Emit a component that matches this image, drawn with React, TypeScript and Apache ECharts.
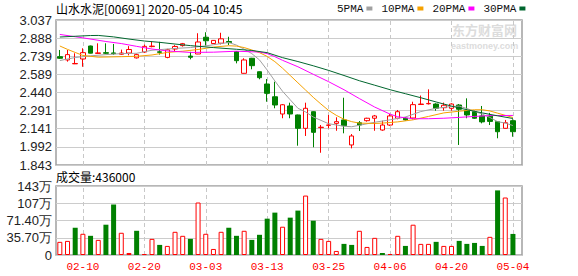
import React, { useEffect, useRef } from 'react';
import * as echarts from 'echarts';

const dates = [
  '02-05', '02-06', '02-07', '02-10', '02-11', '02-12', '02-13', '02-14', '02-17', '02-18',
  '02-19', '02-20', '02-21', '02-24', '02-25', '02-26', '02-27', '02-28', '03-02', '03-03',
  '03-04', '03-05', '03-06', '03-09', '03-10', '03-11', '03-12', '03-13', '03-16', '03-17',
  '03-18', '03-19', '03-20', '03-23', '03-24', '03-25', '03-26', '03-27', '03-30', '03-31',
  '04-01', '04-02', '04-03', '04-06', '04-07', '04-08', '04-09', '04-14', '04-15', '04-16',
  '04-17', '04-20', '04-21', '04-22', '04-23', '04-24', '04-27', '04-28', '04-29', '05-04',
];

const opens = [
  2.735, 2.708, 2.676, 2.716, 2.823, 2.762, 2.768, 2.766, 2.755, 2.765,
  2.725, 2.773, 2.818, 2.775, 2.729, 2.798, 2.826, 2.740, 2.757, 2.895,
  2.843, 2.846, 2.860, 2.777, 2.598, 2.722, 2.611, 2.510, 2.405, 2.263,
  2.329, 2.255, 2.145, 2.282, 2.151, 2.170, 2.186, 2.214, 2.008, 2.191,
  2.208, 2.228, 2.131, 2.172, 2.228, 2.228, 2.230, 2.341, 2.347, 2.345,
  2.315, 2.310, 2.337, 2.290, 2.282, 2.247, 2.245, 2.200, 2.145, 2.208,
];
const closes = [
  2.722, 2.752, 2.679, 2.768, 2.764, 2.766, 2.763, 2.760, 2.765, 2.794,
  2.752, 2.820, 2.822, 2.771, 2.792, 2.819, 2.842, 2.730, 2.856, 2.866,
  2.869, 2.882, 2.851, 2.702, 2.708, 2.661, 2.562, 2.433, 2.337, 2.339,
  2.263, 2.145, 2.310, 2.112, 2.154, 2.172, 2.200, 2.167, 2.082, 2.172,
  2.228, 2.247, 2.172, 2.247, 2.282, 2.214, 2.340, 2.345, 2.350, 2.310,
  2.335, 2.345, 2.302, 2.255, 2.228, 2.198, 2.202, 2.117, 2.191, 2.117,
];
const lows = [
  2.716, 2.694, 2.674, 2.652, 2.762, 2.760, 2.756, 2.750, 2.750, 2.746,
  2.720, 2.765, 2.812, 2.752, 2.722, 2.775, 2.818, 2.713, 2.756, 2.825,
  2.840, 2.836, 2.831, 2.680, 2.596, 2.631, 2.549, 2.364, 2.310, 2.228,
  2.228, 2.002, 2.082, 1.989, 1.944, 2.145, 2.125, 2.104, 1.980, 2.123,
  2.200, 2.125, 2.125, 2.165, 2.219, 2.208, 2.219, 2.337, 2.341, 2.290,
  2.290, 2.290, 2.008, 2.228, 2.222, 2.186, 2.172, 2.063, 2.143, 2.076,
];
const highs = [
  2.790, 2.790, 2.763, 2.804, 2.826, 2.845, 2.845, 2.840, 2.793, 2.822,
  2.760, 2.834, 2.861, 2.857, 2.800, 2.830, 2.848, 2.775, 2.928, 2.936,
  2.872, 2.932, 2.899, 2.780, 2.722, 2.725, 2.613, 2.551, 2.529, 2.345,
  2.356, 2.258, 2.356, 2.285, 2.172, 2.255, 2.236, 2.397, 2.098, 2.205,
  2.232, 2.255, 2.208, 2.263, 2.296, 2.239, 2.364, 2.415, 2.466, 2.351,
  2.357, 2.351, 2.345, 2.392, 2.290, 2.329, 2.272, 2.205, 2.214, 2.219,
];
// volume in 万
const volumes = [
  27.2, 29.2, 56.4, 43.9, 39.7, 31.3, 62.7, 104.5, 46.0, 4.2,
  50.1, 2.0, 33.4, 20.9, 18.8, 48.0, 39.7, 33.4, 108.6, 43.9,
  12.5, 48.0, 56.4, 39.7, 50.1, 31.3, 41.8, 75.2, 87.7, 58.5,
  77.3, 91.9, 123.0, 71.0, 33.4, 29.2, 8.4, 23.0, 20.9, 50.1,
  16.7, 35.5, 4.2, 2.1, 39.7, 18.8, 62.7, 23.0, 23.0, 27.2,
  18.8, 18.8, 29.2, 23.0, 25.0, 18.8, 37.6, 133.7, 119.0, 43.6,
];
const prevClose = 2.7;

const ma5 = [
  [0, 2.703], [2, 2.728], [4, 2.742], [6, 2.752], [8, 2.760], [10, 2.763], [12, 2.788], [14, 2.798],
  [15, 2.803], [17, 2.810], [19, 2.824], [20, 2.833], [21, 2.843], [22, 2.852], [23, 2.830], [24, 2.797],
  [25, 2.760], [26, 2.708], [27, 2.625], [28, 2.535], [29, 2.450], [30, 2.380], [31, 2.310], [32, 2.280],
  [33, 2.238], [35, 2.183], [37, 2.162], [38, 2.158], [39, 2.170], [41, 2.195], [43, 2.215], [45, 2.238],
  [47, 2.283], [49, 2.310], [51, 2.325], [52, 2.328], [53, 2.308], [54, 2.285], [55, 2.262], [56, 2.234],
  [57, 2.200], [58, 2.188], [59, 2.168],
];
const ma10 = [
  [0, 2.823], [1, 2.795], [2, 2.770], [3, 2.745], [5, 2.731], [8, 2.735], [10, 2.738], [12, 2.749],
  [14, 2.770], [16, 2.780], [18, 2.794], [20, 2.814], [22, 2.825], [23, 2.822], [24, 2.810], [25, 2.790],
  [26, 2.768], [27, 2.737], [28, 2.694], [29, 2.640], [30, 2.580], [31, 2.520], [32, 2.460], [33, 2.400],
  [34, 2.345], [35, 2.292], [36, 2.252], [37, 2.220], [38, 2.200], [39, 2.188], [41, 2.185], [42, 2.188],
  [44, 2.198], [46, 2.215], [48, 2.243], [50, 2.272], [52, 2.286], [54, 2.298], [55, 2.298], [56, 2.288],
  [57, 2.270], [58, 2.252], [59, 2.234],
];
const ma20 = [
  [0, 2.918], [3, 2.890], [6, 2.860], [8, 2.843], [10, 2.820], [12, 2.798], [14, 2.782], [17, 2.770],
  [20, 2.772], [23, 2.780], [26, 2.773], [27, 2.760], [28, 2.735], [29, 2.705], [31, 2.652], [33, 2.590],
  [35, 2.529], [37, 2.463], [39, 2.390], [41, 2.320], [43, 2.262], [44, 2.240], [46, 2.224], [48, 2.224],
  [50, 2.228], [52, 2.235], [54, 2.243], [56, 2.250], [59, 2.251],
];
const ma30 = [
  [0, 2.897], [2, 2.903], [4, 2.909], [5, 2.910], [7, 2.898], [9, 2.880], [11, 2.864], [13, 2.853],
  [15, 2.839], [17, 2.826], [20, 2.810], [23, 2.796], [25, 2.786], [27, 2.768], [29, 2.727], [31, 2.695],
  [33, 2.660], [35, 2.622], [37, 2.580], [39, 2.537], [41, 2.500], [43, 2.463], [45, 2.430], [47, 2.397],
  [49, 2.362], [51, 2.328], [53, 2.298], [55, 2.272], [57, 2.248], [59, 2.226],
];

const priceTicks = ['1.843', '1.992', '2.141', '2.291', '2.440', '2.589', '2.739', '2.888', '3.037'];
const volTicks = ['0', '35.70万', '71.40万', '107万', '143万'];
const dateTickIdx = [3, 11, 19, 27, 35, 43, 51, 59];

const PRICE_MIN = 1.843;
const PRICE_MAX = 3.037;
const VOL_MAX = 142.8;

const UP = '#ff0000';
const DOWN = '#008000';
const SANS = "'Noto Sans CJK SC', sans-serif";
const MONO = "'Liberation Mono', monospace";
const NUM = "'Liberation Sans', Arial, sans-serif";

export default function App() {
  const ref = useRef<HTMLDivElement>(null);

  useEffect(() => {
    if (!ref.current) return;
    const chart = echarts.init(ref.current, undefined, { renderer: 'svg' });
    const X_MIN = -0.5;
    const X_MAX = 60.18;
    const pStep = (PRICE_MAX - PRICE_MIN) / 8;
    const vStep = VOL_MAX / 4;

    const candleData = dates.map((_, i) => [i, opens[i], closes[i], lows[i], highs[i]]);
    const volData = volumes.map((v, i) => {
      const pc = i === 0 ? prevClose : closes[i - 1];
      const up = closes[i] >= pc;
      return {
        value: [i, v],
        itemStyle: up
          ? { color: '#ffffff', borderColor: UP, borderWidth: 1 }
          : { color: DOWN, borderColor: DOWN, borderWidth: 0 },
      };
    });

    const vLines = (z: number) => ({
      silent: true,
      symbol: ['none', 'none'],
      label: { show: false },
      z,
      lineStyle: { color: '#c8c8c8', type: [4, 3], width: 1 },
      data: dateTickIdx.map((i) => ({ xAxis: i })),
    });

    const lineSeries = (name: string, pts: number[][], color: string) => ({
      name,
      type: 'line',
      xAxisIndex: 0,
      yAxisIndex: 0,
      data: pts,
      showSymbol: false,
      symbol: 'none',
      smooth: false,
      lineStyle: { color, width: 1 },
      itemStyle: { color },
      z: 3,
    });

    chart.setOption({
      animation: false,
      backgroundColor: '#ffffff',
      title: [
        {
          text: '山水水泥[00691] 2020-05-04 10:45',
          left: 56,
          top: 2,
          padding: 0,
          textStyle: { fontSize: 12, fontWeight: 'normal', color: '#000', fontFamily: SANS },
        },
        {
          text: '成交量:' + Math.round(volumes[volumes.length - 1] * 10000),
          left: 56,
          top: 170,
          padding: 0,
          textStyle: { fontSize: 12, fontWeight: 'normal', color: '#000', fontFamily: SANS },
        },
      ],
      legend: {
        left: 337,
        top: 3,
        align: 'right',
        icon: 'rect',
        itemWidth: 6,
        itemHeight: 4,
        itemGap: 9,
        padding: 0,
        textStyle: { fontSize: 11, color: '#111', fontFamily: MONO, padding: [0, -2, 0, 0] },
        data: ['5PMA', '10PMA', '20PMA', '30PMA'],
      },
      graphic: [
        {
          type: 'text',
          left: 452,
          top: 23,
          z: 1,
          style: { text: '东方财富网', fontSize: 13, fontWeight: 'bold', fill: '#dcdcdc', fontFamily: SANS },
        },
        {
          type: 'text',
          left: 451,
          top: 41,
          z: 1,
          style: { text: 'eastmoney.com', fontSize: 9, fontWeight: 'bold', fill: '#dcdcdc', fontFamily: NUM },
        },
      ],
      grid: [
        { left: 56, top: 20, width: 466, height: 145, show: true, borderColor: '#a0a0a0', borderWidth: 1.5, backgroundColor: 'transparent' },
        { left: 56, top: 186, width: 466, height: 69, show: true, borderColor: '#a0a0a0', borderWidth: 1.5, backgroundColor: 'transparent' },
      ],
      xAxis: [
        {
          type: 'value', gridIndex: 0, min: X_MIN, max: X_MAX,
          axisLine: { show: false }, axisTick: { show: false }, axisLabel: { show: false }, splitLine: { show: false },
        },
        {
          type: 'value', gridIndex: 1, min: X_MIN, max: X_MAX,
          axisLine: { show: false }, axisTick: { show: false }, splitLine: { show: false },
          axisLabel: {
            customValues: dateTickIdx,
            formatter: (v: number) => dates[Math.round(v)] ?? '',
            color: '#ff0000', fontSize: 11, fontFamily: MONO, margin: 6,
          },
        },
      ],
      yAxis: [
        {
          type: 'value', gridIndex: 0, min: PRICE_MIN, max: PRICE_MAX, interval: pStep,
          axisLine: { show: false }, axisTick: { show: false },
          splitLine: { show: true, lineStyle: { color: '#cccccc', width: 1 } },
          axisLabel: {
            formatter: (v: number) => priceTicks[Math.round((v - PRICE_MIN) / pStep)] ?? '',
            color: '#222', fontSize: 13, fontFamily: NUM, margin: 4,
          },
        },
        {
          type: 'value', gridIndex: 1, min: 0, max: VOL_MAX, interval: vStep,
          axisLine: { show: false }, axisTick: { show: false },
          splitLine: { show: true, lineStyle: { color: '#cccccc', width: 1 } },
          axisLabel: {
            formatter: (v: number) => volTicks[Math.round(v / vStep)] ?? '',
            color: '#222', fontSize: 13, fontFamily: NUM, margin: 4,
          },
        },
      ],
      series: [
        {
          name: 'K',
          type: 'candlestick',
          xAxisIndex: 0,
          yAxisIndex: 0,
          barWidth: 5,
          data: candleData,
          itemStyle: { color: '#ffffff', color0: DOWN, borderColor: UP, borderColor0: DOWN, borderWidth: 1 },
          markLine: vLines(1),
          z: 2,
        },
        lineSeries('5PMA', ma5, '#a0a0a0'),
        lineSeries('10PMA', ma10, '#f5a100'),
        lineSeries('20PMA', ma20, '#ff00ff'),
        lineSeries('30PMA', ma30, '#00662e'),
        {
          name: 'VOL',
          type: 'bar',
          xAxisIndex: 1,
          yAxisIndex: 1,
          barWidth: 5,
          data: volData,
          markLine: vLines(1),
          z: 2,
        },
      ],
    });
    return () => chart.dispose();
  }, []);

  return (
    <div
      ref={ref}
      style={{ position: 'absolute', left: 0, top: 0, width: 578, height: 276, background: '#fff' }}
    />
  );
}
